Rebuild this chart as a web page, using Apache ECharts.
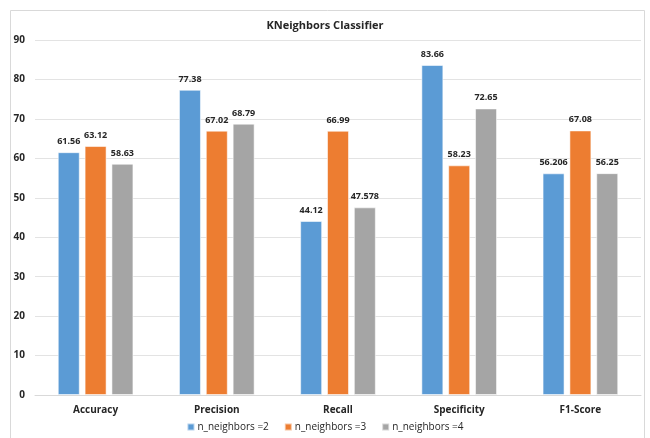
<!DOCTYPE html>
<html>
<head>
<meta charset="utf-8">
<script src="https://cdn.jsdelivr.net/npm/echarts@6/dist/echarts.min.js"></script>
<style>
  html, body { margin: 0; padding: 0; background: #fff; }
  #chart { width: 650px; height: 438px; }
</style>
</head>
<body>
<div id="chart"></div>
<script>
// Metrics of the KNeighbors classifier for three neighbour counts
const categories = ['Accuracy', 'Precision', 'Recall', 'Specificity', 'F1-Score'];
const seriesNames = ['n_neighbors =2', 'n_neighbors =3', 'n_neighbors =4'];
const k2 = [61.56, 77.38, 44.12, 83.66, 56.206];
const k3 = [63.12, 67.02, 66.99, 58.23, 67.08];
const k4 = [58.63, 68.79, 47.578, 72.65, 56.25];
const colors = ['#5B9BD5', '#ED7D31', '#A5A5A5'];

const fontFamily = '"Open Sans", "Liberation Sans", Arial, sans-serif';
const textColor = '#262626';

const chart = echarts.init(document.getElementById('chart'));

const makeSeries = (name, data, color) => ({
  name: name,
  type: 'bar',
  data: data,
  barWidth: 22,
  barGap: '22%',
  itemStyle: { color: color, borderColor: 'rgba(255,255,255,0.55)', borderWidth: 1 },
  label: {
    show: true,
    position: 'top',
    distance: 6,
    fontFamily: fontFamily,
    fontSize: 9,
    fontWeight: 'bold',
    color: textColor,
    formatter: p => String(p.value)
  }
});

chart.setOption({
  animation: false,
  backgroundColor: '#fff',
  title: {
    text: 'KNeighbors Classifier',
    left: 'center',
    top: 15,
    textStyle: { fontFamily: fontFamily, fontSize: 11, fontWeight: 'bold', color: textColor }
  },
  legend: {
    data: seriesNames,
    bottom: 1,
    left: 'center',
    itemWidth: 7,
    itemHeight: 7,
    itemGap: 15,
    icon: 'rect',
    textStyle: { fontFamily: fontFamily, fontSize: 10, color: textColor, padding: [0, 0, 0, -2] }
  },
  grid: { left: 35, right: 9, top: 40, bottom: 43, containLabel: false },
  xAxis: {
    type: 'category',
    data: categories,
    axisLine: { lineStyle: { color: '#d9d9d9' } },
    axisTick: { show: false },
    axisLabel: { fontFamily: fontFamily, fontSize: 10, fontWeight: 'bold', color: textColor, margin: 10 }
  },
  yAxis: {
    type: 'value',
    min: 0,
    max: 90,
    interval: 10,
    axisLine: { show: false },
    axisTick: { show: false },
    splitLine: { lineStyle: { color: '#e3e3e3' } },
    axisLabel: { fontFamily: fontFamily, fontSize: 10, fontWeight: 'bold', color: textColor, margin: 10 }
  },
  color: colors,
  graphic: [{
    type: 'rect',
    shape: { x: 10.5, y: 10.5, width: 634, height: 440 },
    style: { fill: 'none', stroke: '#d9d9d9', lineWidth: 1 },
    silent: true
  }],
  series: [
    makeSeries(seriesNames[0], k2, colors[0]),
    makeSeries(seriesNames[1], k3, colors[1]),
    makeSeries(seriesNames[2], k4, colors[2])
  ]
});
</script>
</body>
</html>
